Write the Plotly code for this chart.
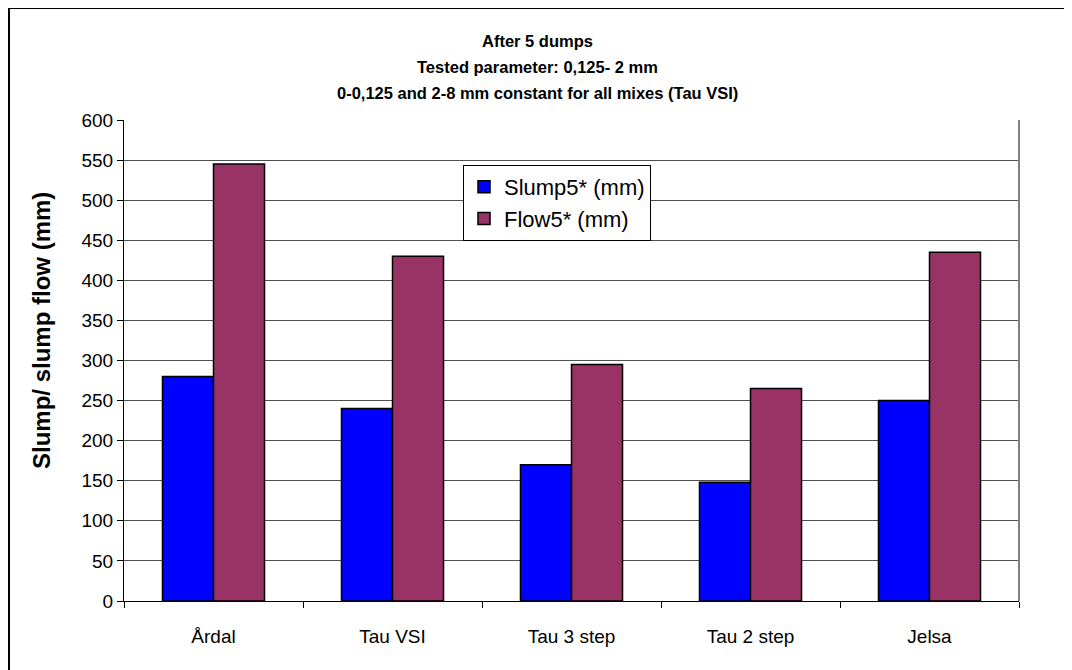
import plotly.graph_objects as go

mixes = ["Årdal", "Tau VSI", "Tau 3 step", "Tau 2 step", "Jelsa"]
slump5 = [280, 240, 170, 148, 250]
flow5 = [545, 430, 295, 265, 435]

title_lines = ["After 5 dumps",
               "Tested parameter: 0,125- 2 mm",
               "0-0,125 and 2-8 mm constant for all mixes (Tau VSI)"]
y_title = "Slump/ slump flow (mm)"

# page is shown with an 8px body margin, so work in page pixels minus 8
OFF = 8
W, H = 1072, 670
L, T = 124 - OFF, 120 - OFF
pw, ph = 895, 481
R, B = W - L - pw, H - T - ph

def px_x(p):
    return (p - OFF - L) / pw

def px_y(p):
    return (H - B - (p - OFF)) / ph

font = "Liberation Sans, Arial, sans-serif"

fig = go.Figure()
fig.add_trace(go.Bar(x=mixes, y=slump5, name="Slump5* (mm)",
                     marker=dict(color="#0000FF", line=dict(color="black", width=1.5))))
fig.add_trace(go.Bar(x=mixes, y=flow5, name="Flow5* (mm)",
                     marker=dict(color="#993366", line=dict(color="black", width=1.5))))

fig.update_layout(
    width=W, height=H,
    margin=dict(l=L, r=R, t=T, b=B),
    paper_bgcolor="white", plot_bgcolor="white",
    font=dict(family=font, size=19, color="black"),
    barmode="group", bargap=0.43, bargroupgap=0,
    showlegend=True,
    legend=dict(x=px_x(463), y=px_y(165), xanchor="left", yanchor="top",
                bgcolor="white", bordercolor="black", borderwidth=1,
                font=dict(size=22)),
)

fig.update_xaxes(showline=True, linecolor="black", linewidth=1,
                 ticks="outside", tickson="boundaries", ticklen=6,
                 tickcolor="black", showgrid=False, tickfont=dict(size=19),
                 ticklabelstandoff=18)
fig.update_yaxes(range=[0, 600], dtick=50, showline=True, linecolor="black",
                 linewidth=1, ticks="outside", ticklen=6, tickcolor="black",
                 showgrid=True, gridcolor="#505050", gridwidth=1,
                 tickfont=dict(size=19), zeroline=False)

fig.add_annotation(text="<b>" + y_title + "</b>", xref="paper", yref="paper",
                   x=px_x(41), y=px_y(331), textangle=-90, showarrow=False,
                   xanchor="center", yanchor="middle", font=dict(size=24))

# plot-area border (right side grey)
fig.add_shape(type="line", xref="paper", yref="paper", x0=1, x1=1, y0=0, y1=1,
              line=dict(color="#808080", width=2))
# outer chart frame (left and top edges visible)
fig.add_shape(type="line", xref="paper", yref="paper",
              x0=px_x(9), x1=px_x(9), y0=px_y(8), y1=px_y(690),
              line=dict(color="black", width=2))
fig.add_shape(type="line", xref="paper", yref="paper",
              x0=px_x(9), x1=px_x(1090), y0=px_y(8), y1=px_y(8),
              line=dict(color="black", width=2))

for i, line in enumerate(title_lines):
    fig.add_annotation(text="<b>" + line + "</b>", xref="paper", yref="paper",
                       x=px_x(537), y=px_y(41 + 26 * i), showarrow=False,
                       xanchor="center", yanchor="middle", font=dict(size=16.5))

fig.write_html("out.html")
